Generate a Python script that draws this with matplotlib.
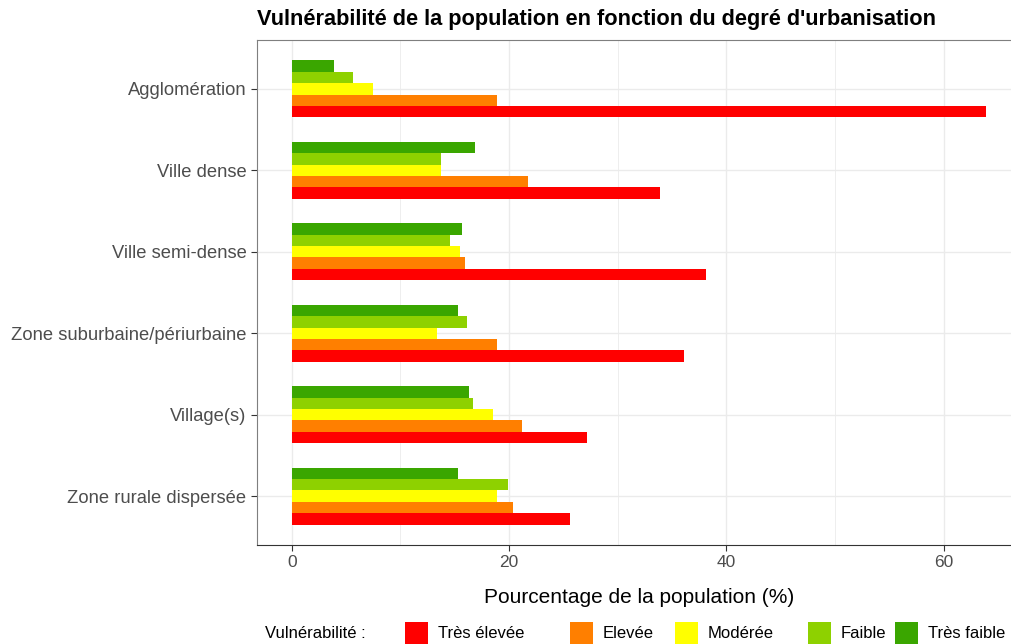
import numpy as np
import matplotlib
matplotlib.use("Agg")
import matplotlib.pyplot as plt
from matplotlib.patches import Rectangle

plt.rcParams['font.family'] = ['Liberation Sans', 'DejaVu Sans']

# Data (% of population)
zones = ["Agglomération", "Ville dense", "Ville semi-dense",
         "Zone suburbaine/périurbaine", "Village(s)", "Zone rurale dispersée"]
levels = ["Très élevée", "Elevée", "Modérée", "Faible", "Très faible"]
colors = ["#FF0000", "#FF7F00", "#FFFF00", "#8ED100", "#3AA600"]

tres_elevee = [63.9, 33.9, 38.1, 36.1, 27.2, 25.6]
elevee = [18.9, 21.7, 15.9, 18.9, 21.2, 20.4]
moderee = [7.5, 13.7, 15.5, 13.4, 18.5, 18.9]
faible = [5.6, 13.7, 14.6, 16.1, 16.7, 19.9]
tres_faible = [3.9, 16.9, 15.7, 15.3, 16.3, 15.3]

series = [tres_elevee, elevee, moderee, faible, tres_faible]

fig = plt.figure(figsize=(10.11, 6.44), dpi=100)
ax = fig.add_axes([257 / 1011, 99 / 644, 764 / 1011, 505 / 644])

y = np.arange(len(zones))[::-1]
group_w = 0.7
bar_h = group_w / len(levels)
for i, (vals, col) in enumerate(zip(series, colors)):
    offset = -group_w / 2 + bar_h * (i + 0.5)
    ax.barh(y + offset, vals, height=bar_h, color=col, zorder=3)

xmax = max(max(s) for s in series)
ax.set_xlim(-0.05 * xmax, xmax * 1.05)
ax.set_ylim(-0.6, len(zones) - 0.4)

ax.set_yticks(y)
ax.set_yticklabels(zones, fontsize=13.2, color="#4D4D4D")
ax.set_xticks([0, 20, 40, 60])
ax.set_xticks([10, 30, 50], minor=True)
ax.tick_params(axis='x', labelsize=12.5, labelcolor="#4D4D4D", color="#333333", length=4)
ax.tick_params(axis='y', color="#333333", length=4)
ax.tick_params(which='minor', length=0)

ax.grid(True, which='major', color="#EBEBEB", linewidth=1, zorder=0)
ax.grid(True, which='minor', axis='x', color="#EBEBEB", linewidth=0.6, zorder=0)
for side in ['left', 'top', 'right']:
    ax.spines[side].set_color("#7F7F7F")
ax.spines['bottom'].set_color("#333333")

ax.set_xlabel("Pourcentage de la population (%)", fontsize=15, color="black", labelpad=13)
fig.text(257 / 1011, 1 - 20 / 644, "Vulnérabilité de la population en fonction du degré d'urbanisation",
         fontsize=15.7, fontweight='bold', ha='left', va='center')

# legend drawn along the bottom
leg_y = 1 - 633 / 644
fig.text(265 / 1011, leg_y, "Vulnérabilité :", fontsize=12, ha='left', va='center')
key_x = [405, 570, 675, 808, 895]
for kx, lab, col in zip(key_x, levels, colors):
    fig.patches.append(Rectangle((kx / 1011, leg_y - 11 / 644), 23 / 1011, 22 / 644,
                                 facecolor=col, edgecolor='none', transform=fig.transFigure))
    fig.text((kx + 33) / 1011, leg_y, lab, fontsize=12, ha='left', va='center')

fig.savefig("out.png", dpi=100)
